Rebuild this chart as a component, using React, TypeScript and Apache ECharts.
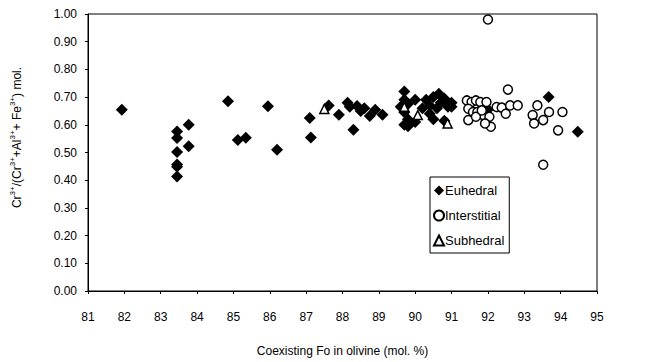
import React, { useEffect, useRef } from "react";
import * as echarts from "echarts";

const euhedralFo = [81.93, 83.45, 83.45, 83.45, 83.45, 83.45, 83.45, 83.77, 83.77, 84.85, 85.12, 85.34, 85.95, 86.2, 87.1, 87.13, 87.62, 87.9, 88.14, 88.2, 88.4, 88.5, 88.6, 88.75, 88.9, 89.1, 88.3, 89.7, 89.7, 89.6, 89.8, 89.7, 89.8, 89.7, 89.8, 90.0, 90.0, 90.2, 90.3, 90.4, 90.5, 90.65, 90.7, 90.6, 90.5, 90.8, 90.9, 91.0, 90.8, 91.0, 90.4, 92.0, 93.67, 94.47];
const euhedralCr = [0.654, 0.576, 0.552, 0.502, 0.457, 0.449, 0.413, 0.60, 0.523, 0.685, 0.545, 0.553, 0.667, 0.51, 0.625, 0.554, 0.67, 0.636, 0.68, 0.665, 0.668, 0.65, 0.66, 0.632, 0.654, 0.636, 0.582, 0.72, 0.69, 0.665, 0.675, 0.645, 0.62, 0.60, 0.595, 0.69, 0.61, 0.66, 0.69, 0.64, 0.70, 0.712, 0.68, 0.66, 0.62, 0.695, 0.665, 0.68, 0.615, 0.665, 0.67, 0.655, 0.70, 0.575];

const interstitialFo = [92.0, 91.42, 91.55, 91.67, 91.79, 91.96, 91.46, 91.59, 91.71, 91.87, 92.04, 92.08, 91.92, 91.46, 91.67, 91.83, 92.24, 92.38, 92.55, 92.61, 92.49, 92.82, 93.23, 93.27, 93.36, 93.52, 93.68, 93.93, 94.05, 93.52];
const interstitialCr = [0.98, 0.688, 0.682, 0.688, 0.682, 0.682, 0.658, 0.646, 0.646, 0.635, 0.629, 0.593, 0.605, 0.617, 0.629, 0.652, 0.664, 0.662, 0.727, 0.67, 0.64, 0.67, 0.635, 0.605, 0.67, 0.617, 0.646, 0.58, 0.646, 0.456];

const subhedralFo = [87.5, 89.7, 90.07, 90.89];
const subhedralCr = [0.657, 0.665, 0.635, 0.605];

const xTicks = [81, 82, 83, 84, 85, 86, 87, 88, 89, 90, 91, 92, 93, 94, 95];
const seriesNames = ["Euhedral", "Interstitial", "Subhedral"];

const zip = (a: number[], b: number[]) => a.map((v, i) => [v, b[i]]);

export default function App() {
  const ref = useRef<HTMLDivElement>(null);
  useEffect(() => {
    if (!ref.current) return;
    const chart = echarts.init(ref.current, undefined, { renderer: "svg" });
    const font = "'Liberation Sans', Arial, sans-serif";
    chart.setOption({
      animation: false,
      textStyle: { fontFamily: font, color: "#000" },
      grid: { left: 86, right: 58, top: 14, bottom: 68, show: true, borderColor: "#000", borderWidth: 1 },
      legend: {
        orient: "vertical",
        left: 430,
        top: 177,
        data: [
          { name: seriesNames[0], icon: "diamond" },
          { name: seriesNames[1], icon: "circle" },
          { name: seriesNames[2], icon: "triangle" },
        ],
        itemWidth: 10,
        itemHeight: 10,
        itemGap: 12,
        borderColor: "#000",
        borderWidth: 1,
        padding: [7, 5, 6, 3],
        textStyle: { fontSize: 13, color: "#000", fontFamily: font, padding: [0, 0, 0, -4] },
      },
      xAxis: {
        type: "value",
        min: xTicks[0],
        max: xTicks[xTicks.length - 1],
        interval: 1,
        name: "Coexisting Fo in olivine (mol. %)",
        nameLocation: "middle",
        nameGap: 54,
        nameTextStyle: { fontSize: 12, color: "#000", fontFamily: font },
        axisLine: { lineStyle: { color: "#000", width: 1 } },
        axisTick: { show: true, length: 3, lineStyle: { color: "#000" } },
        axisLabel: { fontSize: 12, color: "#000", margin: 20, fontFamily: font },
        splitLine: { show: false },
      },
      yAxis: {
        type: "value",
        min: 0,
        max: 1,
        interval: 0.1,
        name: "Cr{sup|3+}/(Cr{sup|3+}+Al{sup|3+}+ Fe{sup|3+}) mol.",
        nameLocation: "middle",
        nameGap: 62,
        nameRotate: 90,
        nameTextStyle: {
          fontSize: 12,
          color: "#000",
          fontFamily: font,
          lineHeight: 18,
          padding: [0, 0, 0, 30],
          rich: {
            sup: { fontSize: 8, lineHeight: 8, verticalAlign: "top", color: "#000", fontFamily: font },
          },
        },
        axisLine: { lineStyle: { color: "#000", width: 1 } },
        axisTick: { show: true, length: 3, lineStyle: { color: "#000" } },
        axisLabel: { fontSize: 12, color: "#000", margin: 11, fontFamily: font, formatter: (v: number) => v.toFixed(2) },
        splitLine: { show: false },
      },
      series: [
        {
          name: seriesNames[0],
          type: "scatter",
          symbol: "diamond",
          symbolSize: 12,
          itemStyle: { color: "#000", opacity: 1 },
          data: zip(euhedralFo, euhedralCr),
        },
        {
          name: seriesNames[1],
          type: "scatter",
          symbol: "circle",
          symbolSize: 9,
          itemStyle: { color: "#fff", borderColor: "#000", borderWidth: 1.5, opacity: 1 },
          data: zip(interstitialFo, interstitialCr),
        },
        {
          name: seriesNames[2],
          type: "scatter",
          symbol: "triangle",
          symbolSize: 9,
          itemStyle: { color: "#fff", borderColor: "#000", borderWidth: 1.5, opacity: 1 },
          data: zip(subhedralFo, subhedralCr),
        },
      ],
    });
    return () => chart.dispose();
  }, []);
  return <div ref={ref} style={{ position: "absolute", left: 0, top: 0, width: 655, height: 362 }} />;
}
